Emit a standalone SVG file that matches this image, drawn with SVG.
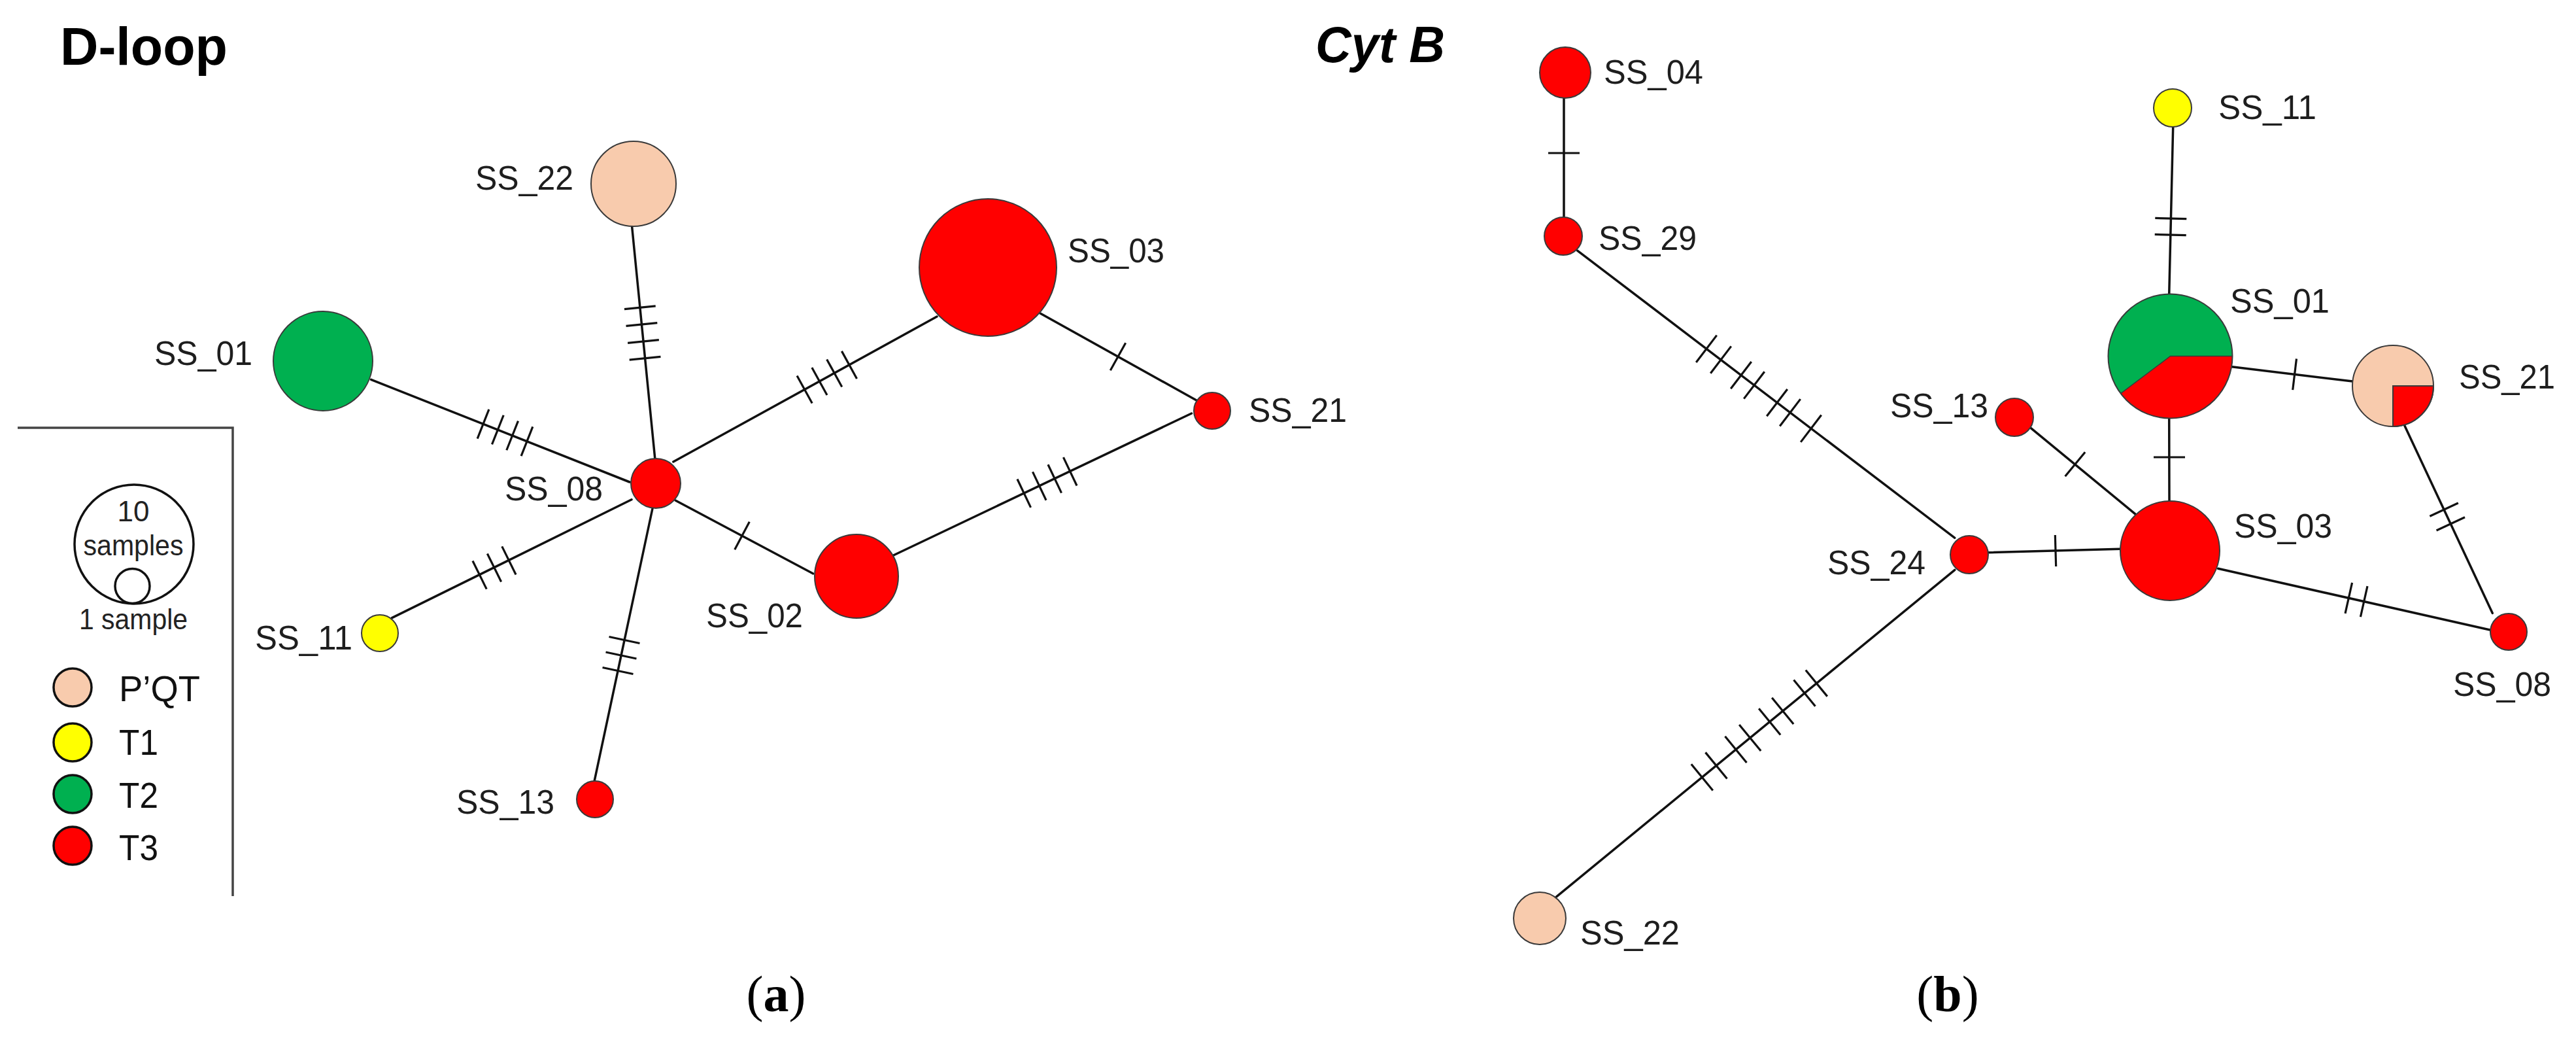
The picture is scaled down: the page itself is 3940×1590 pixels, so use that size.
<svg xmlns="http://www.w3.org/2000/svg" width="3940" height="1590" viewBox="0 0 3940 1590">
<style>
.ln{stroke:#111;stroke-width:3.5;fill:none;stroke-linecap:round}
.tk{stroke:#111;stroke-width:3.2;fill:none}
.nd{stroke:#3a3a3a;stroke-width:2}
.red{fill:#FF0000}.grn{fill:#00B050}.yel{fill:#FFFF00}.pch{fill:#F8CBAD}
.lab{font-family:"Liberation Sans",Arial,sans-serif;font-size:52px;fill:#1e1e1e}
.leg{font-family:"Liberation Sans",Arial,sans-serif;font-size:56px;fill:#111}
.sm{font-family:"Liberation Sans",Arial,sans-serif;font-size:44px;fill:#222;text-anchor:middle}
.lc{stroke:#111;stroke-width:3.5}
.cap{font-family:"Liberation Serif","Times New Roman",serif;font-size:78px;fill:#000;text-anchor:middle}
</style>
<defs>
<line id="t" x1="0" y1="-24" x2="0" y2="24" stroke="#111" stroke-width="3.2"/>
<line id="tl" x1="0" y1="-26" x2="0" y2="26" stroke="#111" stroke-width="3.2"/>
</defs>
<rect width="3940" height="1590" fill="#fff"/>
<text x="92" y="99" font-family="Liberation Sans,Arial,sans-serif" font-weight="bold" font-size="82" textLength="256" lengthAdjust="spacingAndGlyphs">D-loop</text>
<text x="2012" y="95" font-family="Liberation Sans,Arial,sans-serif" font-weight="bold" font-style="italic" font-size="78" textLength="198" lengthAdjust="spacingAndGlyphs">Cyt B</text>
<g id="connectors">
<g id="dloop-lines">
<line class="ln" x1="966.6" y1="346.4" x2="1001.7" y2="700"/>
<line class="ln" x1="567.6" y1="580.3" x2="963" y2="737"/>
<line class="ln" x1="1029.8" y1="706" x2="1433" y2="484"/>
<line class="ln" x1="1591" y1="479" x2="1829.5" y2="611.7"/>
<line class="ln" x1="1033" y1="765" x2="1243.7" y2="877"/>
<line class="ln" x1="1366.5" y1="849" x2="1822.5" y2="632"/>
<line class="ln" x1="966" y1="763.8" x2="599.5" y2="944.6"/>
<line class="ln" x1="998" y1="777.5" x2="909" y2="1194.6"/>
</g>
<g id="dloop-ticks" class="tk">
<g transform="translate(982.7,509) rotate(84.3)"><use href="#t" x="-39"/><use href="#t" x="-13"/><use href="#t" x="13"/><use href="#t" x="39"/></g>
<g transform="translate(772.5,661.5) rotate(21.6)"><use href="#t" x="-36"/><use href="#t" x="-12"/><use href="#t" x="12"/><use href="#t" x="36"/></g>
<g transform="translate(1264.8,576.7) rotate(-28.8)"><use href="#t" x="-39"/><use href="#t" x="-13"/><use href="#t" x="13"/><use href="#t" x="39"/></g>
<g transform="translate(1710,545.2) rotate(29.1)"><use href="#t"/></g>
<g transform="translate(1135,819) rotate(28)"><use href="#t"/></g>
<g transform="translate(1601.5,737.5) rotate(-25.4)"><use href="#t" x="-39"/><use href="#t" x="-13"/><use href="#t" x="13"/><use href="#t" x="39"/></g>
<g transform="translate(756,868) rotate(-26.3)"><use href="#t" x="-25"/><use href="#t"/><use href="#t" x="25"/></g>
<g transform="translate(950,1002) rotate(102)"><use href="#t" x="-24"/><use href="#t"/><use href="#t" x="24"/></g>
</g>
<g id="cytb-lines">
<line class="ln" x1="2392" y1="149" x2="2392" y2="333"/>
<line class="ln" x1="2412.6" y1="383.1" x2="2989.8" y2="822.3"/>
<line class="ln" x1="2380.7" y1="1370.8" x2="2989.8" y2="871.3"/>
<line class="ln" x1="3040.9" y1="844.8" x2="3242.8" y2="839.2"/>
<line class="ln" x1="3104.9" y1="653.3" x2="3266.8" y2="786.6"/>
<line class="ln" x1="3323.7" y1="194" x2="3317.7" y2="450"/>
<line class="ln" x1="3317.7" y1="639" x2="3318" y2="766"/>
<line class="ln" x1="3413.7" y1="560.7" x2="3598.3" y2="583.1"/>
<line class="ln" x1="3677.4" y1="649.8" x2="3812.3" y2="937.4"/>
<line class="ln" x1="3392.7" y1="869.3" x2="3809.3" y2="963.3"/>
</g>
<g id="cytb-ticks" class="tk">
<g transform="translate(2392,234) rotate(90)"><use href="#t"/></g>
<g transform="translate(2610,533.3) rotate(37.3)"><use href="#tl"/><use href="#tl" x="27.7"/><use href="#tl" x="66.6"/><use href="#tl" x="91.8"/><use href="#tl" x="135.8"/><use href="#tl" x="160.9"/><use href="#tl" x="201.1"/></g>
<g transform="translate(2603.3,1188.3) rotate(-39.4)"><use href="#tl"/><use href="#tl" x="28.1"/><use href="#tl" x="66.9"/><use href="#tl" x="95"/><use href="#tl" x="133.8"/><use href="#tl" x="159.7"/><use href="#tl" x="202.8"/><use href="#tl" x="226.5"/></g>
<g transform="translate(3144,842) rotate(-1.6)"><use href="#t"/></g>
<g transform="translate(3173.9,709.7) rotate(39.5)"><use href="#t"/></g>
<g transform="translate(3320,346.5) rotate(91.3)"><use href="#t" x="-12.5"/><use href="#t" x="12.5"/></g>
<g transform="translate(3318,699) rotate(90)"><use href="#t"/></g>
<g transform="translate(3509.6,572.3) rotate(6.9)"><use href="#t"/></g>
<g transform="translate(3743.2,790) rotate(64.9)"><use href="#t" x="-12"/><use href="#t" x="12"/></g>
<g transform="translate(3604,917) rotate(12.7)"><use href="#t" x="-12"/><use href="#t" x="12"/></g>
</g>
</g>
<g id="dloop-SS_22"><circle class="nd pch" cx="969" cy="281" r="65"/><text class="lab" x="727" y="290" textLength="150" lengthAdjust="spacingAndGlyphs">SS_22</text></g>
<g id="dloop-SS_01"><circle class="nd grn" cx="494" cy="552" r="76"/><text class="lab" x="236" y="558" textLength="150" lengthAdjust="spacingAndGlyphs">SS_01</text></g>
<g id="dloop-SS_03"><circle class="nd red" cx="1511" cy="409" r="105"/><text class="lab" x="1633" y="401" textLength="148" lengthAdjust="spacingAndGlyphs">SS_03</text></g>
<g id="dloop-SS_21"><circle class="nd red" cx="1854" cy="628" r="28"/><text class="lab" x="1910" y="645" textLength="150" lengthAdjust="spacingAndGlyphs">SS_21</text></g>
<g id="dloop-SS_08"><circle class="nd red" cx="1003" cy="739" r="38"/><text class="lab" x="772" y="765" textLength="150" lengthAdjust="spacingAndGlyphs">SS_08</text></g>
<g id="dloop-SS_02"><circle class="nd red" cx="1310" cy="881" r="64"/><text class="lab" x="1080" y="959" textLength="148" lengthAdjust="spacingAndGlyphs">SS_02</text></g>
<g id="dloop-SS_11"><circle class="nd yel" cx="581" cy="968" r="28"/><text class="lab" x="390" y="993" textLength="149" lengthAdjust="spacingAndGlyphs">SS_11</text></g>
<g id="dloop-SS_13"><circle class="nd red" cx="910" cy="1222" r="28"/><text class="lab" x="698" y="1244" textLength="150" lengthAdjust="spacingAndGlyphs">SS_13</text></g>
<g id="legend">
<polyline points="27,654 356,654 356,1370" fill="none" stroke="#444" stroke-width="3.5"/>
<circle cx="205" cy="832" r="91" fill="#fff" class="lc"/>
<circle cx="202.5" cy="896" r="26.5" fill="#fff" class="lc"/>
<text class="sm" x="204" y="797">10</text>
<text class="sm" x="204" y="849" textLength="153" lengthAdjust="spacingAndGlyphs">samples</text>
<text class="sm" x="204" y="962" textLength="166" lengthAdjust="spacingAndGlyphs">1 sample</text>
<circle class="pch lc" cx="111" cy="1051" r="29"/><text class="leg" x="182" y="1072" textLength="124" lengthAdjust="spacingAndGlyphs">P’QT</text>
<circle class="yel lc" cx="111" cy="1135" r="29"/><text class="leg" x="182" y="1154" textLength="60" lengthAdjust="spacingAndGlyphs">T1</text>
<circle class="grn lc" cx="111" cy="1214" r="29"/><text class="leg" x="182" y="1235" textLength="60" lengthAdjust="spacingAndGlyphs">T2</text>
<circle class="red lc" cx="111" cy="1293" r="29"/><text class="leg" x="182" y="1315" textLength="60" lengthAdjust="spacingAndGlyphs">T3</text>
</g>
<g id="cytb-SS_04"><circle class="nd red" cx="2394" cy="111" r="39"/><text class="lab" x="2453" y="128" textLength="152" lengthAdjust="spacingAndGlyphs">SS_04</text></g>
<g id="cytb-SS_29"><circle class="nd red" cx="2391" cy="361" r="29"/><text class="lab" x="2445" y="382" textLength="150" lengthAdjust="spacingAndGlyphs">SS_29</text></g>
<g id="cytb-SS_13"><circle class="nd red" cx="3081" cy="638" r="29"/><text class="lab" x="2891" y="638" textLength="150" lengthAdjust="spacingAndGlyphs">SS_13</text></g>
<g id="cytb-SS_11"><circle class="nd yel" cx="3323" cy="165" r="29"/><text class="lab" x="3393" y="182" textLength="150" lengthAdjust="spacingAndGlyphs">SS_11</text></g>
<g id="cytb-SS_01">
<path class="grn" d="M3319.5,544.5 L3243.6,601.7 A95,95 0 1 1 3414.5,544.5 Z"/>
<path class="red" d="M3319.5,544.5 L3414.5,544.5 A95,95 0 0 1 3243.6,601.7 Z"/>
<path d="M3243.6,601.7 L3319.5,544.5 L3414.5,544.5" fill="none" stroke="#3a3a3a" stroke-width="1.5"/>
<circle class="nd" cx="3319.5" cy="544.5" r="95" fill="none"/>
<text class="lab" x="3411" y="478" textLength="152" lengthAdjust="spacingAndGlyphs">SS_01</text>
</g>
<g id="cytb-SS_21">
<path class="pch" d="M3660,590 L3660,652 A62,62 0 1 1 3722,590 Z"/>
<path class="red" d="M3660,590 L3722,590 A62,62 0 0 1 3660,652 Z" stroke="#3a3a3a" stroke-width="2"/>
<circle class="nd" cx="3660" cy="590" r="62" fill="none"/>
<text class="lab" x="3761" y="594" textLength="147" lengthAdjust="spacingAndGlyphs">SS_21</text>
</g>
<g id="cytb-SS_03"><circle class="nd red" cx="3319" cy="842" r="76"/><text class="lab" x="3417" y="822" textLength="150" lengthAdjust="spacingAndGlyphs">SS_03</text></g>
<g id="cytb-SS_08"><circle class="nd red" cx="3837" cy="966" r="28"/><text class="lab" x="3752" y="1064" textLength="150" lengthAdjust="spacingAndGlyphs">SS_08</text></g>
<g id="cytb-SS_24"><circle class="nd red" cx="3012" cy="848" r="29"/><text class="lab" x="2795" y="878" textLength="150" lengthAdjust="spacingAndGlyphs">SS_24</text></g>
<g id="cytb-SS_22"><circle class="nd pch" cx="2355" cy="1404" r="40"/><text class="lab" x="2417" y="1444" textLength="152" lengthAdjust="spacingAndGlyphs">SS_22</text></g>
<text class="cap" x="1187" y="1546">(<tspan font-weight="bold">a</tspan>)</text>
<text class="cap" x="2979" y="1546">(<tspan font-weight="bold">b</tspan>)</text>
</svg>
